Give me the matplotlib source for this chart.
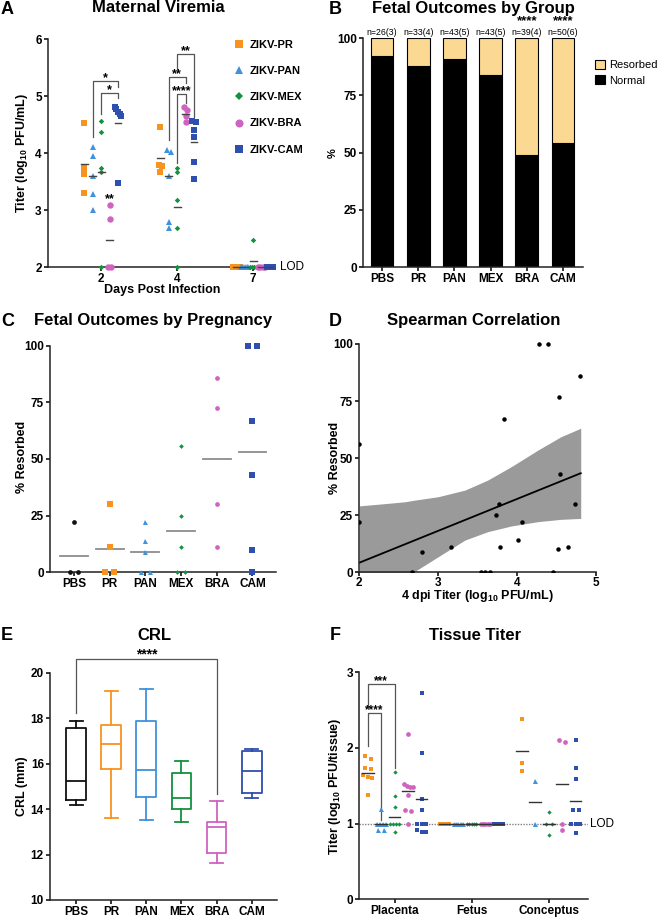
import matplotlib
matplotlib.use("Agg")
import matplotlib.pyplot as plt
from matplotlib.lines import Line2D
import numpy as np

plt.rcParams["font.family"] = ["Liberation Sans", "DejaVu Sans"]
plt.rcParams["font.weight"] = "bold"
plt.rcParams["mathtext.fontset"] = "custom"
plt.rcParams["mathtext.rm"] = "Liberation Sans:bold"
plt.rcParams["mathtext.it"] = "Liberation Sans:bold"
plt.rcParams["mathtext.bf"] = "Liberation Sans:bold"
plt.rcParams["axes.linewidth"] = 1.1
plt.rcParams["axes.edgecolor"] = "#222222"
plt.rcParams["xtick.major.width"] = 1.1
plt.rcParams["ytick.major.width"] = 1.1
plt.rcParams["xtick.major.size"] = 3
plt.rcParams["ytick.major.size"] = 3
plt.rcParams["xtick.major.pad"] = 1.2
plt.rcParams["ytick.major.pad"] = 1.5
plt.rcParams["xtick.labelsize"] = 8.5
plt.rcParams["ytick.labelsize"] = 8.5

# ---- data -------------------------------------------------------------
keys = ["PR", "PAN", "MEX", "BRA", "CAM"]
colors = {"PBS": "#111111", "PR": "#F7931E", "PAN": "#3F92DB", "MEX": "#13923F",
          "BRA": "#CF63C0", "CAM": "#2F4FAF"}
markers = {"PBS": "o", "PR": "s", "PAN": "^", "MEX": "D", "BRA": "o", "CAM": "s"}

# A: maternal viremia, log10 PFU/mL, per day (2, 4, 7)
days = ["2", "4", "7"]
vir_pr = [[4.53, 3.74, 3.63, 3.30], [4.46, 3.79, 3.78, 3.67], [2.0, 2.0, 2.0, 2.0]]
vir_pan = [[4.11, 3.95, 3.60, 3.28, 3.00], [4.06, 4.02, 3.60, 2.79, 2.69], [2.0, 2.0, 2.0, 2.0, 2.0]]
vir_mex = [[4.57, 4.37, 3.74, 3.66, 2.0], [3.74, 3.66, 3.17, 2.69, 2.0], [2.47, 2.0, 2.0, 2.0, 2.0]]
vir_bra = [[3.08, 2.84, 2.0, 2.0], [4.80, 4.76, 4.65, 4.55], [2.0, 2.0, 2.0, 2.0]]
vir_cam = [[4.81, 4.77, 4.72, 4.68, 4.65, 3.48], [4.56, 4.55, 4.40, 4.28, 3.85, 3.54],
           [2.0, 2.0, 2.0, 2.0, 2.0, 2.0]]
vir_mean = [[3.80, 3.92, 2.0], [3.60, 3.60, 2.0], [3.67, 3.05, 2.10], [2.48, 4.69, 2.0], [4.52, 4.19, 2.0]]

# B: fetal outcomes by group (%)
groups = ["PBS", "PR", "PAN", "MEX", "BRA", "CAM"]
normal_pct = [92.3, 87.9, 90.7, 83.7, 48.7, 54.0]
resorbed_pct = [7.7, 12.1, 9.3, 16.3, 51.3, 46.0]
n_labels = ["n=26(3)", "n=33(4)", "n=43(5)", "n=43(5)", "n=39(4)", "n=50(6)"]
b_stars = ["", "", "", "", "****", "****"]

# C: % resorbed per pregnancy
res_by_preg = [[22.2, 0, 0], [30, 11.1, 0, 0], [22, 14, 9, 0, 0], [55.6, 25, 11.1, 0, 0],
               [85.7, 72.7, 30, 11.1], [100, 100, 66.7, 42.9, 10, 0]]
res_mean = [7.3, 10.3, 9.0, 18.3, 49.9, 53.3]

# D: 4 dpi titer vs % resorbed
d_titer = [2.0, 2.0, 2.67, 2.79, 3.17, 3.54, 3.60, 3.66, 3.74, 3.77, 3.78, 3.84, 4.01, 4.06,
           4.28, 4.40, 4.46, 4.52, 4.54, 4.55, 4.65, 4.74, 4.80]
d_resorbed = [56, 22.2, 0, 9, 11.2, 0, 0, 0, 25, 30, 11.2, 67, 14.1, 22.2,
              100, 100, 0, 10, 77, 43, 11.2, 30, 86]
fit_x = [2.0, 4.81]
fit_y = [4.2, 43.4]
band_x = [2.0, 2.3, 2.58, 2.7, 3.0, 3.34, 3.63, 3.93, 4.27, 4.56, 4.81]
band_hi = [29.1, 30.0, 30.9, 31.6, 33.1, 36.0, 40.4, 46.3, 53.6, 59.4, 63.1]
band_lo = [-22, -12, -3, 0.3, 6.8, 14.1, 17.8, 20.3, 22.2, 23.2, 23.6]

# E: CRL box stats (mm)
crl_med = [15.25, 16.85, 15.73, 14.47, 13.20, 15.67]
crl_q1 = [14.40, 15.76, 14.52, 14.00, 12.05, 14.72]
crl_q3 = [17.58, 17.70, 17.89, 15.57, 13.42, 16.57]
crl_lo = [14.18, 13.61, 13.50, 13.43, 11.64, 14.47]
crl_hi = [17.87, 19.21, 19.30, 16.13, 14.34, 16.66]

# F: tissue titer, log10 PFU/tissue
tissues = ["Placenta", "Fetus", "Conceptus"]
plac = [[1.89, 1.86, 1.73, 1.72, 1.64, 1.62, 1.60, 1.38],
        [1.20, 1.0, 1.0, 1.0, 1.0, 0.92, 0.91],
        [1.68, 1.36, 1.22, 1.0, 1.0, 1.0, 1.0, 0.89],
        [2.19, 1.52, 1.50, 1.49, 1.48, 1.38, 1.18, 1.17, 1.0],
        [2.73, 1.94, 1.33, 1.18, 1.0, 1.0, 1.0, 0.91, 0.89, 0.89]]
fetus = [[1.0, 1.0, 1.0, 1.0, 1.0], [1.0, 1.0, 1.0, 1.0, 1.0], [1.0, 1.0, 1.0, 1.0, 1.0],
         [1.0, 1.0, 1.0, 1.0, 1.0], [1.0, 1.0, 1.0, 1.0, 1.0]]
conc = [[2.38, 1.80, 1.70], [1.57, 1.0], [1.15, 1.0, 1.0, 0.85], [2.10, 2.08, 1.0, 0.92],
        [2.11, 1.74, 1.59, 1.18, 1.18, 1.0, 1.0, 1.0, 0.88]]
tis_mean = [[1.67, 1.0, 1.09, 1.43, 1.32], [1.0, 1.0, 1.0, 1.0, 1.0], [1.96, 1.29, 1.0, 1.52, 1.30]]

# ---- helpers ----------------------------------------------------------
W, H = 660, 918
fig = plt.figure(figsize=(W / 100, H / 100), dpi=100)


def ax_at(left, top, right, bottom):
    ax = fig.add_axes([left / W, 1 - bottom / H, (right - left) / W, (bottom - top) / H])
    ax.spines["top"].set_visible(False)
    ax.spines["right"].set_visible(False)
    return ax


def ftext(x, y, s, **kw):
    fig.text(x / W, 1 - y / H, s, ha=kw.pop("ha", "center"), va=kw.pop("va", "center"), **kw)


def spread(vals, tol, step, maxw):
    vals = np.asarray(vals, float)
    offs = np.zeros(len(vals))
    clusters = []
    for i in np.argsort(-vals, kind="stable"):
        if clusters and abs(vals[clusters[-1][-1]] - vals[i]) < tol:
            clusters[-1].append(i)
        else:
            clusters.append([i])
    for c in clusters:
        n = len(c)
        if n > 1:
            s = min(step, maxw / (n - 1))
            for k, i in enumerate(c):
                offs[i] = (k - (n - 1) / 2) * s
    return offs


def bracket(ax, x1, x2, y, b1, b2, label, ly, fs=9, color="#555555"):
    ax.plot([x1, x1, x2, x2], [b1, y, y, b2], color=color, lw=0.9, clip_on=False, zorder=2)
    ax.text((x1 + x2) / 2, ly, label, ha="center", va="center", fontsize=fs, clip_on=False)


# ---- A: Maternal viremia ---------------------------------------------
axA = ax_at(48, 39, 273, 267)
axA.set_xlim(-0.70, 2.26)
axA.set_ylim(2, 6)
offs_a = [-0.22, -0.11, 0.0, 0.11, 0.22]
ms_a = {"PR": 4.4, "PAN": 4.6, "MEX": 2.8, "BRA": 4.6, "CAM": 4.4}
vir = [vir_pr, vir_pan, vir_mex, vir_bra, vir_cam]
for d in range(3):
    for j, k in enumerate(keys):
        vals = np.array(vir[j][d])
        x0 = d + offs_a[j]
        xs = x0 + spread(vals, 0.05, 0.045, 0.09)
        axA.plot(xs, vals, ls="none", marker=markers[k], ms=ms_a[k], color=colors[k],
                 mew=0, clip_on=False, zorder=3)
        axA.plot([x0 - 0.045, x0 + 0.045], [vir_mean[j][d]] * 2, color="#444444", lw=1,
                 clip_on=False, zorder=4)
axA.set_xticks(range(3))
axA.set_xticklabels(days)
axA.set_yticks([2, 3, 4, 5, 6])
axA.text(1.031, 0, "LOD", transform=axA.transAxes, ha="left", va="center",
         fontsize=8.5, fontweight="normal")
bracket(axA, -0.11, 0.22, 5.26, 4.28, 5.15, "*", 5.31)
bracket(axA, 0.0, 0.22, 5.05, 4.69, 4.96, "*", 5.10)
bracket(axA, 1.0, 1.22, 5.73, 5.48, 4.64, "**", 5.78)
bracket(axA, 0.89, 1.11, 5.34, 4.23, 5.22, "**", 5.39)
bracket(axA, 1.0, 1.11, 5.03, 3.82, 4.87, "****", 5.08)
axA.text(0.11, 3.19, "**", ha="center", va="center", fontsize=9)
handles = [Line2D([], [], ls="none", marker=markers[k], ms=ms_a[k] + (1.6 if k == "MEX" else 1.2),
                  color=colors[k], mew=0) for k in keys]
axA.legend(handles, ["ZIKV-" + k for k in keys], loc="upper left", bbox_to_anchor=(0.825, 0.995),
           frameon=False, labelspacing=1.45, handletextpad=0.4, handlelength=1.0,
           borderpad=0, borderaxespad=0, prop={"size": 8, "weight": "bold"})
ftext(7, 9, "A", fontsize=13)
ftext(158, 8, "Maternal Viremia", fontsize=12)
ftext(22, 153, "Titer (log$_{10}$ PFU/mL)", rotation=90, fontsize=9)
ftext(162, 290, "Days Post Infection", fontsize=9)

# ---- B: Fetal outcomes by group ---------------------------------------
axB = ax_at(363, 38, 583, 267)
xb = np.arange(len(groups))
axB.bar(xb, normal_pct, width=0.63, color="black", edgecolor="black", lw=0.8, label="Normal")
axB.bar(xb, resorbed_pct, bottom=normal_pct, width=0.63, color="#FBD993", edgecolor="black",
        lw=0.8, label="Resorbed")
axB.set_xlim(-0.525, 5.55)
axB.set_ylim(0, 100)
axB.set_yticks([0, 25, 50, 75, 100])
axB.set_xticks(xb)
axB.set_xticklabels(groups)
for i in range(len(groups)):
    axB.text(i, 102.6, n_labels[i], ha="center", va="center", fontsize=6.3, fontweight="normal",
             clip_on=False)
    if b_stars[i]:
        axB.text(i, 107.4, b_stars[i], ha="center", va="center", fontsize=9.5, clip_on=False)
hb, lb = axB.get_legend_handles_labels()
axB.legend(hb[::-1], lb[::-1], loc="upper left", bbox_to_anchor=(1.055, 0.905), frameon=False,
           handlelength=0.9, handleheight=0.9, handletextpad=0.4, labelspacing=0.45,
           borderpad=0, borderaxespad=0, prop={"size": 8, "weight": "normal"})
ftext(335, 9, "B", fontsize=13)
ftext(473, 8, "Fetal Outcomes by Group", fontsize=12)
ftext(333, 153, "%", rotation=90, fontsize=8)

# ---- C: Fetal outcomes by pregnancy -----------------------------------
axC = ax_at(50, 345.7, 276, 572.3)
axC.set_xlim(-0.67, 5.66)
axC.set_ylim(0, 100)
ms_c = {"PBS": 3.4, "PR": 3.8, "PAN": 3.6, "MEX": 2.4, "BRA": 3.4, "CAM": 3.8}
for i, g in enumerate(groups):
    vals = np.array(res_by_preg[i])
    xs = i + spread(vals, 2.5, 0.24, 0.5)
    axC.plot(xs, vals, ls="none", marker=markers[g], ms=ms_c[g], color=colors[g], mew=0,
             clip_on=False, zorder=3)
    axC.plot([i - 0.39, i + 0.39], [res_mean[i]] * 2, color="#8c8c8c", lw=1.3, zorder=2)
axC.set_xticks(range(len(groups)))
axC.set_xticklabels(groups)
axC.set_yticks([0, 25, 50, 75, 100])
ftext(8, 322, "C", fontsize=13)
ftext(153, 321, "Fetal Outcomes by Pregnancy", fontsize=12)
ftext(22, 457, "% Resorbed", rotation=90, fontsize=9)

# ---- D: Spearman correlation ------------------------------------------
axD = ax_at(359.3, 344, 595.7, 572.3)
axD.fill_between(band_x, band_lo, band_hi, color="#9a9a9a", lw=0, zorder=1)
axD.plot(fit_x, fit_y, color="black", lw=1.3, zorder=2)
top = np.array(d_resorbed) >= 100
axD.plot(np.array(d_titer)[~top], np.array(d_resorbed)[~top], ls="none", marker="o", ms=3.2,
         color="black", mew=0, zorder=3)
axD.plot(np.array(d_titer)[top], np.array(d_resorbed)[top], ls="none", marker="o", ms=3.2,
         color="black", mew=0, zorder=3, clip_on=False)
axD.set_xlim(2, 5)
axD.set_ylim(0, 100)
axD.set_xticks([2, 3, 4, 5])
axD.set_yticks([0, 25, 50, 75, 100])
axD.tick_params(axis="x", pad=0.5)
ftext(335, 321, "D", fontsize=13)
ftext(474, 320, "Spearman Correlation", fontsize=12)
ftext(335, 458, "% Resorbed", rotation=90, fontsize=9)
ftext(477, 596, "4 dpi Titer (log$_{10}$ PFU/mL)", fontsize=9)

# ---- E: CRL ------------------------------------------------------------
axE = ax_at(50, 672.7, 276.7, 900)
stats = [dict(med=crl_med[i], q1=crl_q1[i], q3=crl_q3[i], whislo=crl_lo[i], whishi=crl_hi[i],
              fliers=[]) for i in range(len(groups))]
bp = axE.bxp(stats, positions=np.arange(len(groups)), widths=0.56, capwidths=0.37,
             showfliers=False)
for i, g in enumerate(groups):
    c = colors[g]
    for art in [bp["boxes"][i], bp["medians"][i], bp["whiskers"][2 * i], bp["whiskers"][2 * i + 1],
                bp["caps"][2 * i], bp["caps"][2 * i + 1]]:
        art.set_color(c)
        art.set_linewidth(1.3)
axE.set_xlim(-0.74, 5.71)
axE.set_ylim(10, 20)
axE.set_yticks([10, 12, 14, 16, 18, 20])
axE.set_xticks(range(len(groups)))
axE.set_xticklabels(groups)
bracket(axE, 0, 4, 20.59, 18.24, 14.66, "****", 20.82, fs=10)
ftext(7, 635, "E", fontsize=13)
ftext(154, 635, "CRL", fontsize=12)
ftext(22, 786, "CRL (mm)", rotation=90, fontsize=9)

# ---- F: Tissue titer ---------------------------------------------------
axF = ax_at(359.3, 672.3, 588, 899.3)
axF.set_xlim(-0.46, 2.51)
axF.set_ylim(0, 3)
axF.axhline(1, ls=(0, (1, 1)), color="#808080", lw=1, zorder=1)
offs_f = [-0.35, -0.175, 0.0, 0.175, 0.35]
ms_f = {"PR": 3.4, "PAN": 3.6, "MEX": 2.2, "BRA": 3.4, "CAM": 3.4}
for t, tis in enumerate([plac, fetus, conc]):
    for j, k in enumerate(keys):
        vals = np.array(tis[j])
        x0 = t + offs_f[j]
        xs = x0 + spread(vals, 0.03, 0.075, 0.12)
        axF.plot(xs, vals, ls="none", marker=markers[k], ms=ms_f[k], color=colors[k], mew=0,
                 zorder=3)
        axF.plot([x0 - 0.075, x0 + 0.075], [tis_mean[t][j]] * 2, color="#333333", lw=1, zorder=4)
axF.set_xticks(range(3))
axF.set_xticklabels(tissues)
axF.set_yticks([0, 1, 2, 3])
axF.text(1.01, 1 / 3, "LOD", transform=axF.transAxes, ha="left", va="center", fontsize=8.5,
         fontweight="normal")
bracket(axF, -0.35, -0.175, 2.46, 2.02, 1.05, "****", 2.50, fs=8.5)
bracket(axF, -0.35, 0.0, 2.84, 2.55, 1.73, "***", 2.88, fs=8.5)
ftext(335, 635, "F", fontsize=13)
ftext(475, 635, "Tissue Titer", fontsize=12)
ftext(335, 786, "Titer (log$_{10}$ PFU/tissue)", rotation=90, fontsize=9)

fig.savefig("out.png", dpi=100)
